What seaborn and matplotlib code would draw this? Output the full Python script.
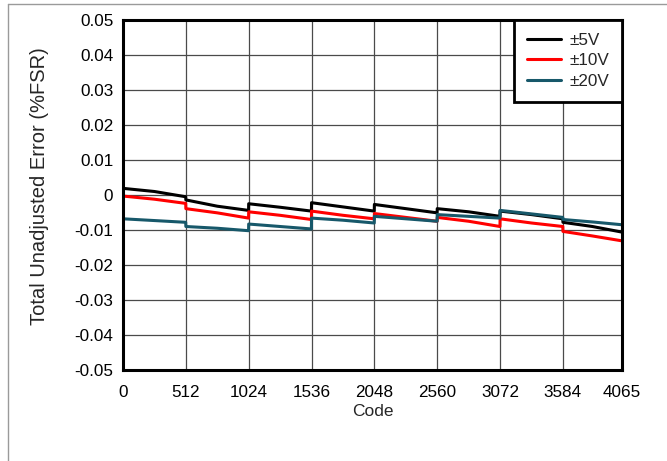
import matplotlib
matplotlib.use("Agg")
import matplotlib.pyplot as plt
import seaborn as sns
import pandas as pd
from matplotlib.lines import Line2D

# --- data ---
codes = [0, 256, 511, 512, 768, 1023, 1024, 1280, 1535, 1536, 1792, 2047,
         2048, 2304, 2559, 2560, 2816, 3071, 3072, 3328, 3583, 3584, 3824, 4065]

tue_5v = [0.0019, 0.0010, -0.0005, -0.0014, -0.0032, -0.0044,
          -0.0025, -0.0035, -0.0046, -0.0022, -0.0034, -0.0046,
          -0.0027, -0.0039, -0.0051, -0.0039, -0.0048, -0.0061,
          -0.0046, -0.0056, -0.0068, -0.0078, -0.0090, -0.0106]

tue_10v = [-0.0003, -0.0012, -0.0024, -0.0039, -0.0051, -0.0066,
           -0.0048, -0.0058, -0.0070, -0.0046, -0.0058, -0.0068,
           -0.0053, -0.0064, -0.0075, -0.0064, -0.0075, -0.0090,
           -0.0068, -0.0080, -0.0090, -0.0104, -0.0117, -0.0131]

tue_20v = [-0.0068, -0.0073, -0.0078, -0.0090, -0.0095, -0.0102,
           -0.0083, -0.0090, -0.0097, -0.0066, -0.0072, -0.0080,
           -0.0061, -0.0068, -0.0075, -0.0056, -0.0061, -0.0066,
           -0.0044, -0.0054, -0.0064, -0.0070, -0.0077, -0.0085]

series_names = ["±5V", "±10V", "±20V"]
series_colors = ["#000000", "#ff0000", "#17586a"]

x_ticks = [0, 512, 1024, 1536, 2048, 2560, 3072, 3584, 4065]
y_ticks = [0.05, 0.04, 0.03, 0.02, 0.01, 0, -0.01, -0.02, -0.03, -0.04, -0.05]
y_tick_labels = ["0.05", "0.04", "0.03", "0.02", "0.01", "0",
                 "-0.01", "-0.02", "-0.03", "-0.04", "-0.05"]

df = pd.concat([
    pd.DataFrame({"Code": codes, "TUE": vals, "Range": name})
    for name, vals in zip(series_names, [tue_5v, tue_10v, tue_20v])
], ignore_index=True)

sns.set_style("white")
plt.rcParams["font.family"] = ["Liberation Sans", "DejaVu Sans"]

fig = plt.figure(figsize=(6.67, 4.61), dpi=100)
ax = fig.add_axes([0.1844, 0.1974, 0.9325 - 0.1844, 0.9566 - 0.1974])

sns.lineplot(data=df, x="Code", y="TUE", hue="Range", palette=series_colors,
             hue_order=series_names, linewidth=2.2, ax=ax, legend=False,
             estimator=None, sort=False)

ax.set_xlim(0, 4065)
ax.set_ylim(-0.05, 0.05)
ax.set_xticks(x_ticks)
ax.set_xticklabels([str(t) for t in x_ticks])
ax.set_yticks(y_ticks)
ax.set_yticklabels(y_tick_labels)
ax.tick_params(axis="both", length=0, labelsize=12.3, colors="#000000")
ax.tick_params(axis="y", pad=7)
ax.tick_params(axis="x", pad=11)
ax.grid(True, color="#4a4a4a", linewidth=0.9)
ax.set_axisbelow(True)
for s in ax.spines.values():
    s.set_visible(True)
    s.set_color("black")
    s.set_linewidth(2.2)

ax.set_xlabel("Code", fontsize=12.5, labelpad=3)
ax.set_ylabel("Total Unadjusted Error (%FSR)", fontsize=14.5)
ax.yaxis.set_label_coords(-0.148, 0.525)

handles = [Line2D([0], [0], color=c, lw=2.2) for c in series_colors]
leg = ax.legend(handles, series_names, loc="upper right", fontsize=12.3,
                frameon=True, fancybox=False, framealpha=1, edgecolor="black",
                borderaxespad=0.0, handlelength=2.0, handletextpad=0.5,
                labelspacing=0.32, borderpad=0.75)
leg.get_frame().set_linewidth(2.0)

# outer figure border (left and top)
fig.add_artist(Line2D([8 / 667, 8 / 667], [0, 1 - 4 / 461], color="#9a9a9a",
                      lw=1, transform=fig.transFigure))
fig.add_artist(Line2D([8 / 667, 1], [1 - 4 / 461, 1 - 4 / 461], color="#9a9a9a",
                      lw=1, transform=fig.transFigure))

fig.savefig("out.png", dpi=100)
